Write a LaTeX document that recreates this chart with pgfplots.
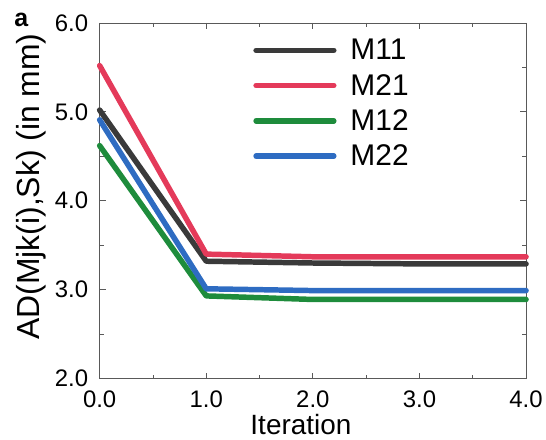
\documentclass[border=0pt]{standalone}
\usepackage{fontspec}
\setmainfont{Liberation Sans}
\usepackage{pgfplots}
\pgfplotsset{compat=1.18}
\definecolor{cM11}{HTML}{3A3A3A}
\definecolor{cM21}{HTML}{E43A5A}
\definecolor{cM12}{HTML}{1E8C3C}
\definecolor{cM22}{HTML}{2E6CC2}
\begin{document}
\begin{tikzpicture}
\begin{axis}[
  scale only axis,
  width=428pt, height=357pt,
  xmin=0, xmax=4, ymin=2, ymax=6,
  clip=false,
  xtick={0,1,2,3,4}, ytick={2,3,4,5,6},
  minor x tick num=1, minor y tick num=1,
  xticklabels={0.0,1.0,2.0,3.0,4.0},
  yticklabels={2.0,3.0,4.0,5.0,6.0},
  tick align=inside,
  major tick length=6pt, minor tick length=4pt,
  axis line style={gray!70!black, line width=0.8pt},
  every tick/.style={gray!70!black, line width=0.8pt},
  /pgf/number format/assume math mode=true,
  tick label style={font=\fontsize{24}{27}\selectfont},
  xticklabel style={yshift=-9pt},
  yticklabel style={xshift=-8pt},
  xlabel={Iteration},
  ylabel={AD(Mjk(i),Sk) (in mm)},
  xlabel style={font=\fontsize{28}{30}\selectfont, yshift=-3pt, xshift=-12pt, inner sep=0pt},
  ylabel style={font=\fontsize{32}{35}\selectfont, at={(ticklabel cs:0.54)}, yshift=2pt},
  legend style={draw=none, fill=none, at={(0.36,0.96)}, anchor=north west,
    font=\fontsize{30}{33}\selectfont, row sep=9pt, column sep=12pt, inner sep=0pt},
  legend cell align=left,
  legend image code/.code={\draw[#1, line cap=round] (0pt,0pt) -- (78pt,0pt);},
  every axis plot/.append style={line width=5.5pt, line cap=round, line join=round},
]
\addplot[cM11] coordinates {(0,5.02) (1,3.32) (2,3.30) (3,3.29) (4,3.29)};
\addlegendentry{M11}
\addplot[cM21] coordinates {(0,5.52) (1,3.40) (2,3.37) (3,3.37) (4,3.37)};
\addlegendentry{M21}
\addplot[cM12] coordinates {(0,4.62) (1,2.93) (2,2.89) (3,2.89) (4,2.89)};
\addlegendentry{M12}
\addplot[cM22] coordinates {(0,4.91) (1,3.01) (2,2.99) (3,2.99) (4,2.99)};
\addlegendentry{M22}
\end{axis}
\node[font=\bfseries\fontsize{25}{27}\selectfont, anchor=north west] at ([xshift=-89pt,yshift=13pt]current axis.north west) {a};
\path (current axis.south west) ++(-100pt,-61pt);
\path (current axis.north east) ++(18pt,23pt);
\end{tikzpicture}
\end{document}
